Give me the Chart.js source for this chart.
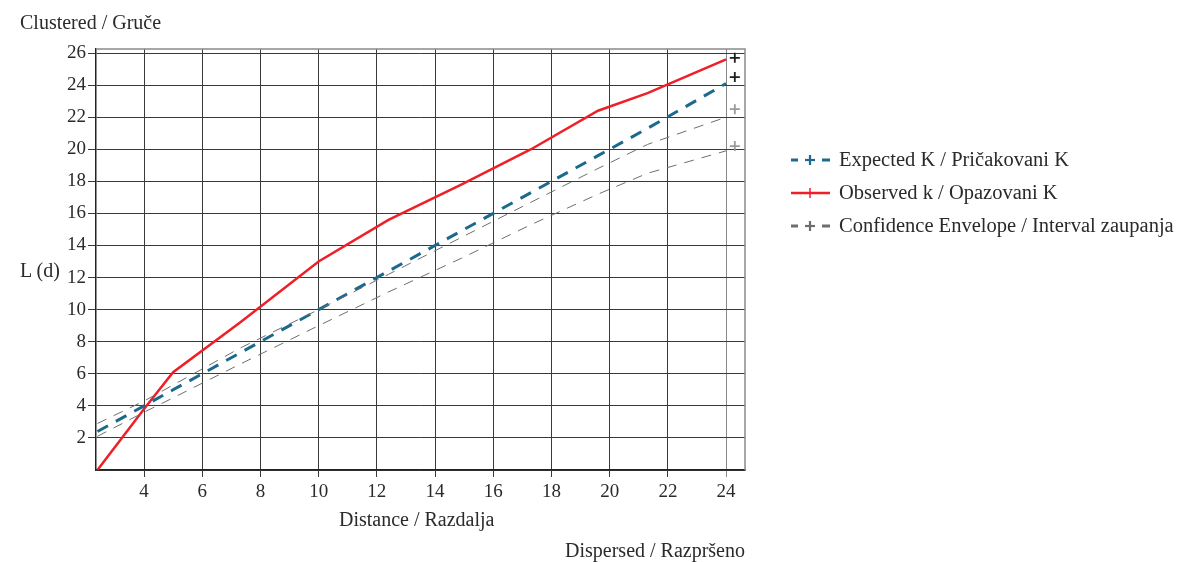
<!DOCTYPE html>
<html>
<head>
<meta charset="utf-8">
<script src="https://cdn.jsdelivr.net/npm/chart.js@4/dist/chart.umd.min.js"></script>
<style>
  body { margin: 0; background: #fff; }
  #wrap { position: relative; width: 1185px; height: 562px; font-family: "Liberation Serif", serif; color: #2a2a2a; }
  .txt { position: absolute; font-size: 20px; line-height: 24px; white-space: nowrap; }
  #legend { position: absolute; left: 790px; top: 143px; }
  .item { display: flex; align-items: center; height: 33px; font-size: 20.5px; }
  .item svg { margin-right: 7px; }
</style>
</head>
<body>
<div id="wrap">
  <canvas id="chart" width="1185" height="562"></canvas>
  <div class="txt" style="left:20px; top:10px;">Clustered / Gruče</div>
  <div class="txt" style="left:20px; top:258px;">L (d)</div>
  <div class="txt" style="left:339px; top:507px;">Distance / Razdalja</div>
  <div class="txt" style="right:440px; top:538px;">Dispersed / Razpršeno</div>
  <div id="legend"></div>
</div>
<script>
// distance values where the curves were read
const distances = [2.4, 4.0, 5.0, 7.3, 10.0, 12.4, 14.9, 17.3, 19.6, 21.3, 24.0];
const expectedK = [2.4, 4.0, 5.0, 7.3, 10.0, 12.4, 14.9, 17.3, 19.6, 21.3, 24.1];
const observedK = [0.0, 3.8, 6.1, 9.2, 13.0, 15.6, 17.8, 20.0, 22.4, 23.5, 25.6];
const upperEnv = [2.9, 4.3, 5.3, 7.6, 10.0, 12.2, 14.5, 16.7, 18.8, 20.3, 22.0];
const lowerEnv = [2.1, 3.6, 4.5, 6.6, 9.0, 11.1, 13.2, 15.3, 17.2, 18.5, 19.9];

// the little + marks standing at the right end of the curves
const endMarkX = 24.3;
const endMarkY = [25.7, 24.5, 22.5, 20.2];
const endMarkColors = ['#1e1e1e', '#1e1e1e', '#999', '#999'];

const blue = '#1b6a8d';
const red = '#ee1f27';
const gray = '#6e6e6e';

function toPoints(ys) {
    return distances.map((d, i) => ({ x: d, y: ys[i] }));
}

// frame around the plot: grey top and right edge
const frame = {
    id: 'frame',
    beforeDatasetsDraw(chart) {
        const a = chart.chartArea, c = chart.ctx;
        c.save();
        c.strokeStyle = '#8a8a8a';
        c.lineWidth = 1.5;
        c.beginPath();
        c.moveTo(a.left, a.top);
        c.lineTo(a.right, a.top);
        c.lineTo(a.right, a.bottom);
        c.stroke();
        c.restore();
    }
};

Chart.defaults.font.family = '"Liberation Serif", serif';
Chart.defaults.font.size = 19;
Chart.defaults.color = '#2a2a2a';

const ctx = document.getElementById('chart').getContext('2d');
const kChart = new Chart(ctx, {
    type: 'line',
    data: {
        datasets: [
            { label: 'Confidence Envelope / Interval zaupanja', data: toPoints(upperEnv), borderColor: gray, borderWidth: 1, borderDash: [10, 8], pointRadius: 0, tension: 0 },
            { label: 'lower', data: toPoints(lowerEnv), borderColor: gray, borderWidth: 1, borderDash: [10, 8], pointRadius: 0, tension: 0 },
            { label: 'Expected K / Pričakovani K', data: toPoints(expectedK), borderColor: blue, borderWidth: 3, borderDash: [12, 9], pointRadius: 0, tension: 0 },
            { label: 'Observed k / Opazovani K', data: toPoints(observedK), borderColor: red, borderWidth: 2.5, pointRadius: 0, tension: 0 },
            {
                label: 'ends', type: 'scatter',
                data: endMarkY.map(y => ({ x: endMarkX, y: y })),
                pointStyle: 'cross', pointRadius: 5, borderWidth: 1.8,
                borderColor: endMarkColors, backgroundColor: endMarkColors
            }
        ]
    },
    options: {
        responsive: false,
        animation: false,
        layout: { padding: { left: 0, top: 49, right: 440, bottom: 0 } },
        plugins: { legend: { display: false }, tooltip: { enabled: false } },
        scales: {
            x: {
                type: 'linear', min: 2.35, max: 24.65,
                ticks: { stepSize: 2, includeBounds: false, padding: 4, maxRotation: 0 },
                grid: {
                    color: ctx => ctx.tick && ctx.tick.value === 24 ? '#8a8a8a' : '#3a3a3a',
                    lineWidth: 1, tickLength: 7
                },
                border: { color: '#222', width: 1.5 },
                afterFit(s) { s.height = 92; }
            },
            y: {
                min: 0, max: 26.25,
                ticks: { stepSize: 2, includeBounds: false, padding: 2, callback: v => v === 0 ? '' : v },
                grid: {
                    color: '#3a3a3a', lineWidth: 1, tickLength: 8,
                    tickColor: ctx => ctx.tick && ctx.tick.value === 0 ? 'rgba(0,0,0,0)' : '#3a3a3a'
                },
                border: { color: '#222', width: 1.5 },
                afterFit(s) { s.width = 96; }
            }
        }
    },
    plugins: [frame]
});

// legend built as html
const legendItems = [
    { text: 'Expected K / Pričakovani K', color: blue, dashed: true, w: 3 },
    { text: 'Observed k / Opazovani K', color: red, dashed: false, w: 2.5 },
    { text: 'Confidence Envelope / Interval zaupanja', color: gray, dashed: true, w: 3 }
];
const legend = document.getElementById('legend');
legendItems.forEach(it => {
    let line;
    if (it.dashed) {
        line = `<line x1="1" y1="10" x2="8" y2="10" stroke="${it.color}" stroke-width="${it.w}"/>
                <line x1="32" y1="10" x2="40" y2="10" stroke="${it.color}" stroke-width="${it.w}"/>
                <line x1="15" y1="10" x2="25" y2="10" stroke="${it.color}" stroke-width="2.2"/>
                <line x1="20" y1="5" x2="20" y2="15" stroke="${it.color}" stroke-width="2.2"/>`;
    } else {
        line = `<line x1="1" y1="10" x2="40" y2="10" stroke="${it.color}" stroke-width="${it.w}"/>
                <line x1="20" y1="5" x2="20" y2="15" stroke="${it.color}" stroke-width="1.5"/>`;
    }
    legend.innerHTML += `<div class="item"><svg width="42" height="20">${line}</svg><span>${it.text}</span></div>`;
});
</script>
</body>
</html>
